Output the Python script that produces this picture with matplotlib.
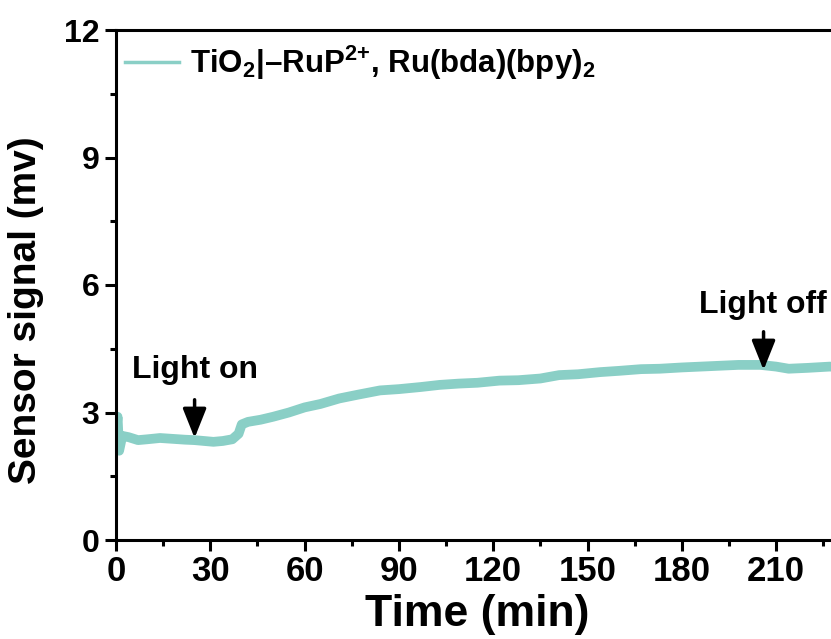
import matplotlib
matplotlib.use("Agg")
import matplotlib.pyplot as plt
from matplotlib.ticker import MultipleLocator

time_min = [0, 0.5, 1, 2, 4, 7, 10, 14, 18, 22, 25, 28, 31, 34, 37, 39, 40, 42,
            46, 50, 55, 60, 65, 71, 77, 84, 90, 97, 103, 109, 115, 122, 128,
            135, 141, 147, 154, 160, 167, 173, 180, 186, 192, 198, 205, 210,
            214, 220, 227, 230]
signal_mv = [2.5, 2.9, 2.1, 2.45, 2.42, 2.35, 2.37, 2.4, 2.38, 2.36, 2.35, 2.33,
             2.31, 2.33, 2.37, 2.5, 2.72, 2.78, 2.83, 2.9, 3.0, 3.12, 3.2, 3.33,
             3.42, 3.52, 3.55, 3.6, 3.65, 3.68, 3.7, 3.75, 3.76, 3.8, 3.88, 3.9,
             3.95, 3.98, 4.02, 4.03, 4.06, 4.08, 4.1, 4.12, 4.12, 4.08, 4.03,
             4.05, 4.08, 4.07]
x_ticks = [0, 30, 60, 90, 120, 150, 180, 210]
y_ticks = [0, 3, 6, 9, 12]
light_on_t, light_off_t = 25, 206
series_label = r"TiO$_2$|–RuP$^{2{+}}$, Ru(bda)(bpy)$_2$"

plt.rcParams["font.family"] = ["Liberation Sans", "DejaVu Sans"]
plt.rcParams["font.weight"] = "bold"
plt.rcParams["mathtext.fontset"] = "custom"
plt.rcParams["mathtext.rm"] = "Liberation Sans:bold"
plt.rcParams["mathtext.bf"] = "Liberation Sans:bold"
plt.rcParams["mathtext.default"] = "bf"

fig = plt.figure(figsize=(8.31, 6.39), dpi=100)
ax = fig.add_axes([116 / 831, 99 / 639, 723 / 831, 510 / 639])

ax.plot(time_min, signal_mv, color="#8ACFC6", lw=7, solid_joinstyle="round",
        label=series_label)

ax.set_xlim(0, 230)
ax.set_ylim(0, 12)
ax.set_xticks(x_ticks)
ax.set_yticks(y_ticks)
ax.xaxis.set_minor_locator(MultipleLocator(15))
ax.yaxis.set_minor_locator(MultipleLocator(1.5))
ax.tick_params(which="major", direction="out", length=8, width=2.2)
ax.tick_params(which="minor", direction="out", length=4, width=2.2)
ax.tick_params(axis="y", labelsize=23, pad=4)
ax.tick_params(axis="x", labelsize=25, pad=3)
for sp in ax.spines.values():
    sp.set_linewidth(2.2)

ax.set_ylabel("Sensor signal (mv)", fontsize=28, fontweight="bold")
ax.yaxis.set_label_coords(-0.1, 0.45)
ax.set_xlabel("Time (min)", fontsize=32, fontweight="bold", labelpad=4)

arrow_kw = dict(arrowstyle="-|>,head_length=0.45,head_width=0.18", color="black",
                lw=2.5, mutation_scale=40, shrinkA=0, shrinkB=0)
ax.annotate("", xy=(light_on_t, 2.4), xytext=(light_on_t, 3.3), arrowprops=arrow_kw)
ax.annotate("", xy=(light_off_t, 4.0), xytext=(light_off_t, 4.9), arrowprops=arrow_kw)
ax.text(light_on_t, 4.0, "Light on", fontsize=23, fontweight="bold",
        ha="center", va="center")
ax.text(light_off_t - 0.3, 5.53, "Light off", fontsize=23, fontweight="bold",
        ha="center", va="center")

leg = ax.legend(loc="upper left", frameon=False, fontsize=22.5, handlelength=1.75,
                handletextpad=0.35, borderaxespad=0.2, bbox_to_anchor=(-0.014, 1.01))
for h in leg.legend_handles:
    h.set_linewidth(2.5)

fig.savefig("out.png", dpi=100)
